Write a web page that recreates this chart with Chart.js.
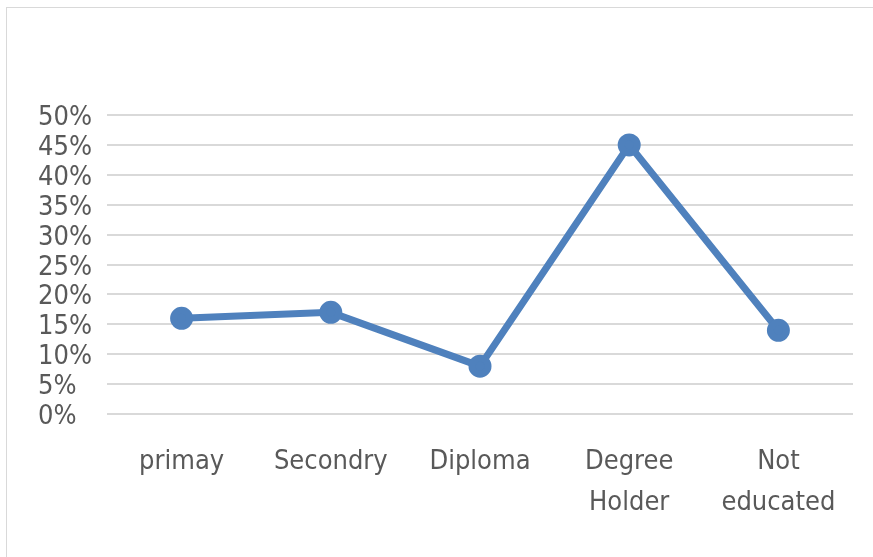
<!DOCTYPE html>
<html>
<head>
<meta charset="utf-8">
<script src="https://cdn.jsdelivr.net/npm/chart.js@4/dist/chart.umd.min.js"></script>
<style>
    html, body { margin: 0; padding: 0; background: #fff; }
    #wrap { position: relative; width: 873px; height: 557px; overflow: hidden; }
    #frame {
        position: absolute; left: 6px; top: 7px; width: 900px; height: 600px;
        border-left: 1px solid #d9d9d9; border-top: 1px solid #d9d9d9;
    }
    canvas { position: absolute; left: 0; top: 0; }
</style>
</head>
<body>
<div id="wrap">
    <div id="frame"></div>
    <canvas id="eduChart" width="873" height="557"></canvas>
</div>
<script>
// data
const categories = ["primay", "Secondry", "Diploma", ["Degree", "Holder"], ["Not", "educated"]];
const shares = [16, 17, 8, 45, 14];
const yTicks = [0, 5, 10, 15, 20, 25, 30, 35, 40, 45, 50];

document.addEventListener("DOMContentLoaded", function () {

    const ctx = document.getElementById("eduChart");
    const fam = "'Liberation Sans Narrow', 'DejaVu Sans Condensed', sans-serif";

    new Chart(ctx, {
        type: 'line',
        data: {
            labels: categories,
            datasets: [{
                data: shares,
                borderColor: '#4f81bd',
                backgroundColor: '#4f81bd',
                borderWidth: 7,
                pointRadius: 8,
                pointHoverRadius: 8,
                tension: 0
            }]
        },
        options: {
            responsive: false,
            animation: false,
            layout: {
                padding: { top: 115, right: 20, bottom: 0, left: 38 }
            },
            plugins: {
                legend: { display: false },
                tooltip: { enabled: false }
            },
            scales: {
                x: {
                    offset: true,
                    grid: { display: false },
                    border: { display: false },
                    ticks: {
                        color: '#595959',
                        font: { family: fam, size: 27, lineHeight: 1.5 },
                        padding: 20,
                        maxRotation: 0,
                        autoSkip: false
                    },
                    afterFit: function (scale) { scale.height = 143; }
                },
                y: {
                    min: 0,
                    max: 50,
                    afterBuildTicks: function (scale) {
                        scale.ticks = yTicks.map(v => ({ value: v }));
                    },
                    grid: { color: '#d9d9d9', lineWidth: 2, drawTicks: false },
                    border: { display: false },
                    ticks: {
                        color: '#595959',
                        font: { family: fam, size: 27, lineHeight: 1 },
                        padding: 19,
                        crossAlign: 'far',
                        labelOffset: 3,
                        autoSkip: false,
                        callback: v => v + '%'
                    },
                    afterFit: function (scale) { scale.width = 69; }
                }
            }
        }
    });

});
</script>
</body>
</html>
